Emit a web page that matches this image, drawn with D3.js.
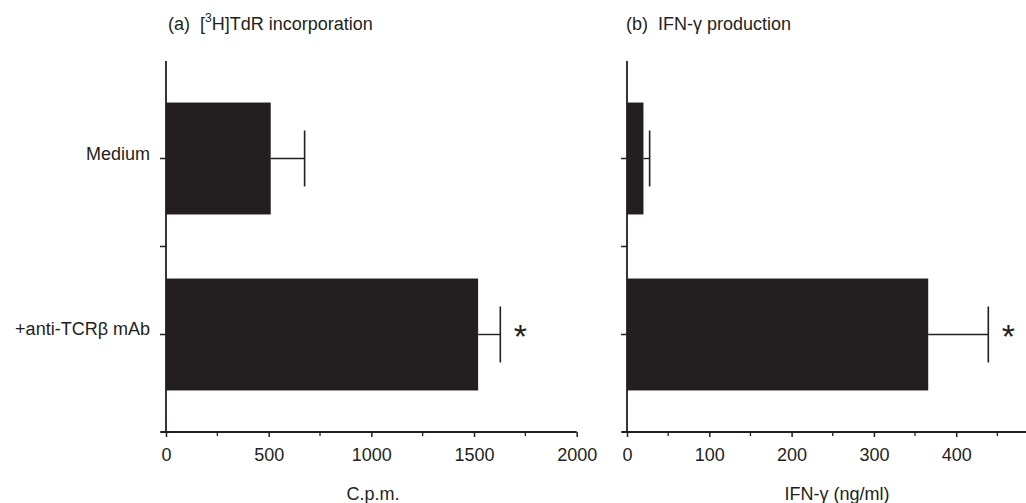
<!DOCTYPE html>
<html>
<head>
<meta charset="utf-8">
<script src="https://cdn.jsdelivr.net/npm/d3@7"></script>
<style>
  html, body { margin: 0; padding: 0; background: #fff; }
  svg { display: block; }
  text { font-family: "Liberation Sans", Arial, sans-serif; fill: #231f20; }
</style>
</head>
<body>
<svg id="chart" width="1026" height="503"></svg>
<script>
// Treatment groups (shared by both panels)
const categories = ["Medium", "+anti-TCRβ mAb"];

// Panel (a): [3H]TdR incorporation, counts per minute
const cpmMean = [510, 1520];
const cpmErr = [165, 108];
const cpmTicks = [0, 500, 1000, 1500, 2000];

// Panel (b): IFN-γ production, ng/ml
const ifnMean = [20, 366];
const ifnErr = [7.5, 73];
const ifnTicks = [0, 100, 200, 300, 400];

// Significance markers per group
const significant = [false, true];

const ink = "#231f20";
const fontSize = 18;
const svg = d3.select("#chart");

const y = d3.scaleBand()
  .domain(categories)
  .range([61, 432])
  .paddingInner(0.364)
  .paddingOuter(0.236);

function panel(opts) {
  const { x, mean, err, ticks, minorStep, title, titleX, xLabel, xLabelX, showCats } = opts;
  const g = svg.append("g");
  const x0 = x(0);
  const yTop = y.range()[0], yBot = y.range()[1];
  const rows = mean.map((m, i) => ({ cat: categories[i], m, e: err[i], sig: significant[i] }));
  const mid = d => y(d.cat) + y.bandwidth() / 2;

  // bars
  g.selectAll("rect.bar").data(rows).join("rect")
    .attr("class", "bar")
    .attr("x", x0)
    .attr("y", d => y(d.cat))
    .attr("width", d => x(d.m) - x0)
    .attr("height", y.bandwidth())
    .attr("fill", ink);

  // error bars (upper side only)
  const eb = g.selectAll("g.err").data(rows).join("g").attr("class", "err");
  eb.append("line")
    .attr("x1", d => x(d.m))
    .attr("x2", d => x(d.m + d.e))
    .attr("y1", mid).attr("y2", mid)
    .attr("stroke", ink).attr("stroke-width", 1.4);
  eb.append("line")
    .attr("x1", d => x(d.m + d.e))
    .attr("x2", d => x(d.m + d.e))
    .attr("y1", d => y(d.cat) + y.bandwidth() * 0.25)
    .attr("y2", d => y(d.cat) + y.bandwidth() * 0.75)
    .attr("stroke", ink).attr("stroke-width", 1.6);

  // significance asterisks
  g.selectAll("text.sig").data(rows.filter(d => d.sig)).join("text")
    .attr("class", "sig")
    .attr("x", d => x(d.m + d.e) + 20)
    .attr("y", d => mid(d) + 14)
    .attr("text-anchor", "middle")
    .attr("font-size", 34)
    .text("*");

  // x axis
  const xAxis = d3.axisBottom(x)
    .tickValues(ticks)
    .tickSize(5)
    .tickPadding(11)
    .tickFormat(d3.format("d"));
  const ax = g.append("g").attr("transform", `translate(0,${yBot})`).call(xAxis);
  ax.select(".domain").attr("stroke", ink).attr("stroke-width", 2.2)
    .attr("d", `M${x0 - 5},0H${x.range()[1]}`);
  ax.selectAll(".tick line").attr("stroke", ink).attr("stroke-width", 1.5);
  ax.selectAll(".tick text").attr("font-size", fontSize).attr("fill", ink)
    .style("font-family", '"Liberation Sans", Arial, sans-serif');

  // minor x ticks
  const minor = d3.range(minorStep, x.domain()[1], minorStep * 2);
  g.append("g").selectAll("line").data(minor).join("line")
    .attr("x1", d => x(d)).attr("x2", d => x(d))
    .attr("y1", yBot).attr("y2", yBot + 4)
    .attr("stroke", ink).attr("stroke-width", 1.3);

  // y axis: line plus ticks at group centres and between groups
  g.append("line")
    .attr("x1", x0).attr("x2", x0)
    .attr("y1", yTop).attr("y2", yBot)
    .attr("stroke", ink).attr("stroke-width", 1.8);
  const centres = rows.map(mid);
  const yTicks = [centres[0], (centres[0] + centres[1]) / 2, centres[1], yBot];
  g.append("g").selectAll("line").data(yTicks).join("line")
    .attr("x1", x0 - 6).attr("x2", x0)
    .attr("y1", d => d).attr("y2", d => d)
    .attr("stroke", ink).attr("stroke-width", 1.5);

  if (showCats) {
    g.selectAll("text.cat").data(rows).join("text")
      .attr("class", "cat")
      .attr("x", x0 - 16)
      .attr("y", d => mid(d) + 1)
      .attr("text-anchor", "end")
      .attr("font-size", fontSize)
      .text(d => d.cat);
  }

  // x axis title
  g.append("text")
    .attr("x", xLabelX)
    .attr("y", 500)
    .attr("text-anchor", "middle")
    .attr("font-size", fontSize)
    .text(xLabel);

  // panel title
  const t = g.append("text")
    .attr("x", titleX)
    .attr("y", 30)
    .attr("font-size", fontSize)
    .attr("xml:space", "preserve");
  title(t);
}

const xa = d3.scaleLinear().domain([0, 2000]).range([166, 576.7]);
const xb = d3.scaleLinear().domain([0, 500]).range([627, 1038.5]);

panel({
  x: xa, mean: cpmMean, err: cpmErr, ticks: cpmTicks, minorStep: 250,
  xLabel: "C.p.m.", xLabelX: 373, showCats: true, titleX: 168,
  title: t => {
    t.append("tspan").text("(a)  [");
    t.append("tspan").attr("font-size", 12).attr("dy", -8).text("3");
    t.append("tspan").attr("dy", 8).text("H]TdR incorporation");
  }
});

panel({
  x: xb, mean: ifnMean, err: ifnErr, ticks: ifnTicks, minorStep: 50,
  xLabel: "IFN-γ (ng/ml)", xLabelX: 837, showCats: false, titleX: 626,
  title: t => {
    t.append("tspan").text("(b)  IFN-γ production");
  }
});
</script>
</body>
</html>
